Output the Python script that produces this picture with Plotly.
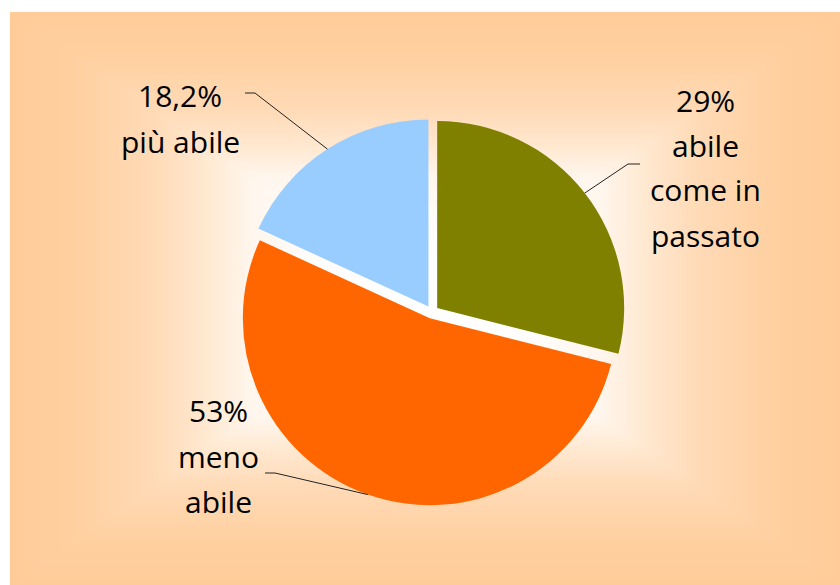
import numpy as np
import plotly.graph_objects as go

# data
values = [29, 53, 18.2]
label_lines = [["abile", "come in", "passato"], ["meno", "abile"], ["più abile"]]
colors = ["#808000", "#FF6600", "#99CCFF"]

W, H = 840, 585
CX, CY, R = 432, 312, 187
PULL = 0.035
LINE_STEP = 45

# where each label sits (px): text centre x, first line y, elbow and outer end of its leader line
label_pos = [
    dict(x=705, y=100, elbow=(628, 164), end=(640, 164)),
    dict(x=218, y=411, elbow=(275, 473), end=(265, 473)),
    dict(x=180, y=96, elbow=(255, 93), end=(245, 93)),
]


def px(x, y):
    return x / W, 1 - y / H


fig = go.Figure()

# peach "from centre" background
gx = np.linspace(10, W, 84)
gy = np.linspace(12, H, 58)
X, Y = np.meshgrid(gx, gy)
t = np.maximum(np.abs(X - 425) / 415, np.abs(Y - 298) / 287)
stops = [(0, 0), (0.25, 0.03), (0.42, 0.18), (0.54, 0.48), (0.66, 0.72), (0.86, 0.95), (1, 1)]
cscale = [[s, f"rgb(255,{round(255 - 51 * f)},{round(255 - 102 * f)})"] for s, f in stops]
fig.add_trace(go.Heatmap(x=gx, y=gy, z=t, zmin=0, zmax=1, colorscale=cscale,
                         zsmooth="best", showscale=False, hoverinfo="skip"))

half = R * (1 + PULL)
fig.add_trace(go.Pie(
    values=values, sort=False, direction="clockwise", rotation=0,
    marker=dict(colors=colors, line=dict(width=0)),
    pull=[PULL] * len(values), textinfo="none", hoverinfo="skip",
    showlegend=False,
    domain=dict(x=[(CX - half) / W, (CX + half) / W],
                y=[1 - (CY + half) / H, 1 - (CY - half) / H]),
))

total = sum(values)
cum = 0
shapes, annotations = [], []
for v, lines, pos in zip(values, label_lines, label_pos):
    mid = (cum + v / 2) / total * 2 * np.pi
    cum += v
    ex = CX + half * np.sin(mid)
    ey = CY - half * np.cos(mid)
    p0, p1, p2 = px(ex, ey), px(*pos["elbow"]), px(*pos["end"])
    shapes.append(dict(type="path", xref="paper", yref="paper",
                       path=f"M {p0[0]} {p0[1]} L {p1[0]} {p1[1]} L {p2[0]} {p2[1]}",
                       line=dict(color="#222222", width=1)))
    pct = f"{v:g}%".replace(".", ",")
    for i, txt in enumerate([pct] + lines):
        ax, ay = px(pos["x"], pos["y"] + i * LINE_STEP)
        annotations.append(dict(x=ax, y=ay, xref="paper", yref="paper", text=txt,
                                showarrow=False, xanchor="center", yanchor="middle",
                                font=dict(family="Open Sans", size=30, color="black")))

fig.update_layout(
    width=W, height=H,
    margin=dict(l=0, r=0, t=0, b=0),
    paper_bgcolor="white", plot_bgcolor="rgba(0,0,0,0)",
    xaxis=dict(domain=[10 / W, 1], range=[10, W], visible=False, fixedrange=True),
    yaxis=dict(domain=[0, 1 - 12 / H], range=[H, 12], visible=False, fixedrange=True),
    shapes=shapes, annotations=annotations,
)

# page body has a default margin; drop it so the figure fills the window
fig.write_html("out.html", config={"displayModeBar": False},
               post_script="document.body.style.margin='0';document.body.style.overflow='hidden';")
